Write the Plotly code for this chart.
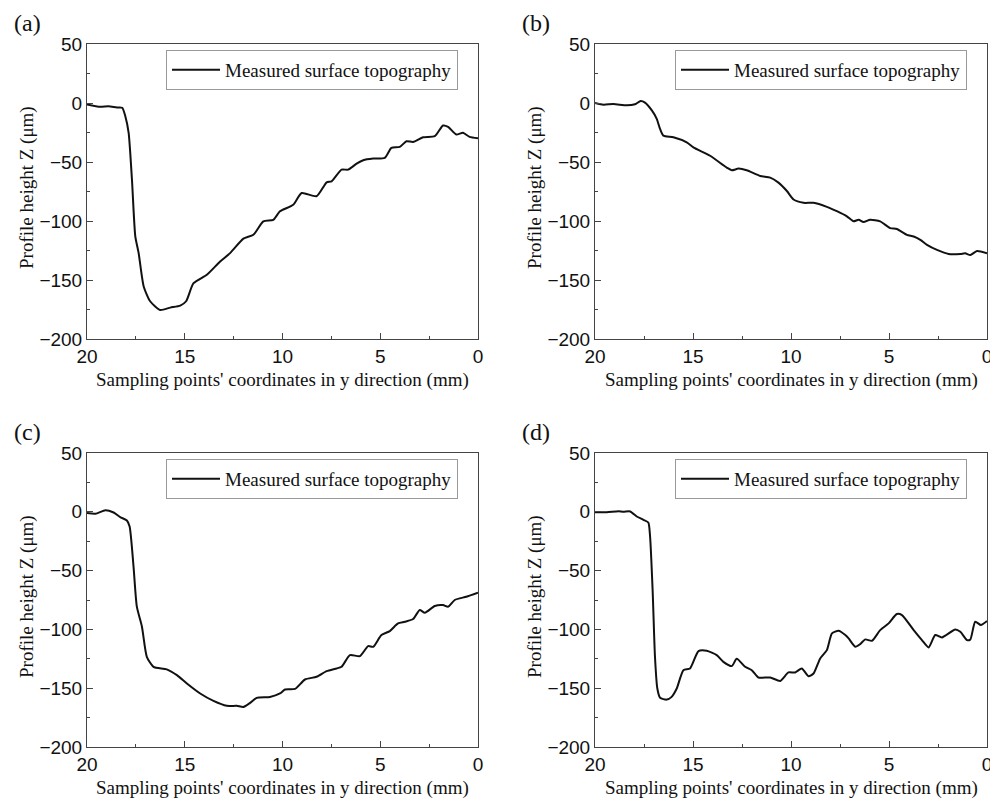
import plotly.graph_objects as go

# ---------------- data ----------------
xa = [20, 19.32, 18.9, 18.47, 18.2, 18.04, 17.87, 17.7, 17.53, 17.36, 17.1, 16.77, 16.26, 15.74, 15.23, 14.93,
      14.55, 13.87, 13.19, 12.68, 12.0, 11.49, 10.98, 10.47, 10.13, 9.45, 9.02, 8.26, 7.74, 7.49, 6.98, 6.64,
      6.21, 5.87, 5.36, 4.77, 4.43, 4.0, 3.66, 3.32, 2.81, 2.21, 1.79, 1.53, 1.11, 0.77, 0.43, 0]
ya = [-1.2, -3.2, -2.7, -3.8, -4, -11.2, -25.3, -65, -113, -127, -155.5, -168, -175.4, -173.4, -171.7, -168,
      -152.7, -145.6, -134.3, -127.2, -115, -111.7, -100.3, -99, -91.8, -86.2, -76.3, -79, -67.2, -66.4, -56.5, -56.5,
      -51.4, -48.5, -47.1, -46.5, -38, -37.2, -32.4, -33, -29, -28.1, -19.1, -20.2, -26.7, -25.3, -28.7, -29.8]

xb = [20, 19.57, 19.06, 18.38, 17.96, 17.67, 17.45, 17.1, 16.85, 16.68, 16.51, 16.0, 15.32, 14.98, 14.13, 13.28,
      13.02, 12.68, 12.26, 11.57, 11.06, 10.64, 10.21, 9.87, 9.36, 8.85, 8.17, 7.66, 7.15, 6.81, 6.55, 6.3, 5.96,
      5.45, 4.94, 4.6, 4.09, 3.74, 3.4, 3.06, 2.55, 1.96, 1.36, 1.11, 0.85, 0.51, 0]
yb = [0, -1.4, -0.9, -2, -1.1, 1.7, 0.3, -6.3, -13.4, -22, -27.6, -29, -33.3, -37.6, -44.7, -54.7,
      -57, -55.6, -57, -61.8, -63.2, -67.5, -74.6, -81.8, -84.6, -84.6, -88, -91.7, -96, -100.3, -98.9, -100.9, -98.9,
      -100.3, -106, -106.8, -111.7, -113.1, -116, -120.2, -124.5, -127.9, -127.9, -127.4, -128.8, -125.4, -127.4]

xc = [20, 19.57, 19.06, 18.64, 18.3, 17.96, 17.82, 17.62, 17.45, 17.19, 16.94, 16.6, 15.92, 15.4, 14.89, 14.21,
      13.53, 12.85, 12.34, 12.0, 11.66, 11.32, 10.64, 10.13, 9.87, 9.36, 8.85, 8.26, 7.74, 7.23, 6.98, 6.55, 6.04,
      5.62, 5.36, 4.94, 4.51, 4.09, 3.74, 3.32, 2.98, 2.72, 2.21, 1.79, 1.53, 1.19, 0.6, 0]
yc = [-1.1, -1.7, 1.4, -0.6, -4.5, -7.4, -12.5, -46.6, -80.7, -97.7, -123.3, -131.8, -134, -138.9, -146, -154.5,
      -160.8, -165, -165, -165.9, -162.5, -158.2, -157.4, -154.5, -151.1, -150.6, -142.6, -140.3, -135.5, -133.2,
      -131.8, -121.9, -122.7, -114.2, -114.8, -104.8, -101.4, -94.9, -93.5, -91.2, -83.5, -85.8, -80.1, -79.3,
      -80.7, -75, -72.2, -68.8]

xd = [20, 19.4, 18.81, 18.55, 18.21, 17.87, 17.53, 17.28, 17.19, 17.06, 16.94, 16.82, 16.68, 16.34, 16.09, 15.83,
      15.49, 15.15, 14.72, 14.3, 13.79, 13.45, 13.02, 12.77, 12.34, 12.0, 11.66, 11.06, 10.55, 10.13, 9.79, 9.45,
      9.11, 8.85, 8.51, 8.17, 7.91, 7.57, 7.23, 7.06, 6.72, 6.47, 6.21, 5.87, 5.45, 5.02, 4.6, 4.34, 3.74, 3.32,
      2.98, 2.64, 2.3, 1.62, 1.36, 1.02, 0.85, 0.6, 0.31, 0]
yd = [-0.4, -0.4, 0.5, 0, 0.3, -4, -6.8, -9.1, -21, -66.5, -123.3, -150.3, -158.2, -159.7, -157.4, -150.3,
      -134.7, -133.2, -118.5, -118.2, -121.9, -127.6, -131.2, -125, -131.8, -134.7, -140.9, -140.9, -143.8, -136.6,
      -136.6, -133.2, -139.8, -137.5, -124.7, -117.6, -103.4, -101.1, -104.8, -107.7, -114.8, -112.5, -108.5,
      -109.7, -100.6, -94.9, -86.9, -87.8, -100.6, -109.1, -115.3, -104.8, -106.8, -100, -102, -109.1, -108.5,
      -93.5, -96.3, -92.9]

series = [(xa, ya), (xb, yb), (xc, yc), (xd, yd)]
panel_labels = ["(a)", "(b)", "(c)", "(d)"]
legend_name = "Measured surface topography"
x_title = "Sampling points' coordinates in y direction (mm)"
y_title = "Profile height Z (\u03bcm)"
x_ticks = [20, 15, 10, 5, 0]
y_ticks = [50, 0, -50, -100, -150, -200]

# ---------------- layout ----------------
OFF = 8            # page body margin of the browser
W, H = 990, 790
def fx(px):        # window px -> paper fraction
    return (px - OFF) / W
def fy(py):
    return 1 - (py - OFF) / H

panels = [  # left, right, top, bottom in window px
    (87, 478, 44, 339),
    (595, 987, 44, 339),
    (87, 478, 453, 747),
    (595, 987, 453, 747),
]
SERIF = "Liberation Serif, Times New Roman, serif"
SANS = "Liberation Sans, Arial, sans-serif"
INK = "#111111"

fig = go.Figure()
layout = dict(width=W, height=H, margin=dict(l=0, r=0, t=0, b=0),
              paper_bgcolor="white", plot_bgcolor="white", showlegend=True)
annotations = []
for i, ((xs, ys), (l, r, t, b)) in enumerate(zip(series, panels)):
    n = "" if i == 0 else str(i + 1)
    leg = "legend" if i == 0 else f"legend{i+1}"
    fig.add_trace(go.Scatter(x=xs, y=ys, mode="lines", name=legend_name,
                             line=dict(color=INK, width=2, shape="spline", smoothing=0.6),
                             xaxis="x" + n, yaxis="y" + n, legend=leg))
    axcommon = dict(showline=True, mirror=True, linecolor="#444444", linewidth=1, automargin=False,
                    ticks="inside", ticklen=6, tickcolor="#444444", showgrid=False, zeroline=False,
                    tickfont=dict(family=SANS, size=19, color=INK))
    layout["xaxis" + n] = dict(axcommon, domain=[fx(l), fx(r)], anchor="y" + n,
                               range=[20, 0], tickvals=x_ticks,
                               minor=dict(dtick=2.5, ticks="inside", ticklen=3, tickcolor="#444444"))
    layout["yaxis" + n] = dict(axcommon, domain=[fy(b), fy(t)], anchor="x" + n,
                               range=[-200, 50], tickvals=y_ticks,
                               minor=dict(dtick=25, ticks="inside", ticklen=3, tickcolor="#444444"))
    layout[leg] = dict(x=fx(r - 20), y=fy(t + 6), xanchor="right", yanchor="top",
                       bgcolor="white", bordercolor="#999999", borderwidth=1,
                       font=dict(family=SERIF, size=19, color=INK),
                       tracegroupgap=0, itemwidth=48)
    annotations.append(dict(text=panel_labels[i], x=fx(l - 75), y=fy(t - 21),
                            xref="paper", yref="paper", xanchor="left", yanchor="middle",
                            showarrow=False, font=dict(family=SERIF, size=24, color=INK)))
    # axis titles
    annotations.append(dict(text=x_title, x=fx((l + r) / 2), y=fy(b + 41),
                            xref="paper", yref="paper", xanchor="center", yanchor="middle",
                            showarrow=False, font=dict(family=SERIF, size=19, color=INK)))
    annotations.append(dict(text=y_title, x=fx(l - 60), y=fy(t + 144), textangle=-90,
                            xref="paper", yref="paper", xanchor="center", yanchor="middle",
                            showarrow=False, font=dict(family=SERIF, size=19, color=INK)))
layout["annotations"] = annotations
fig.update_layout(**layout)
fig.write_html("out.html")
